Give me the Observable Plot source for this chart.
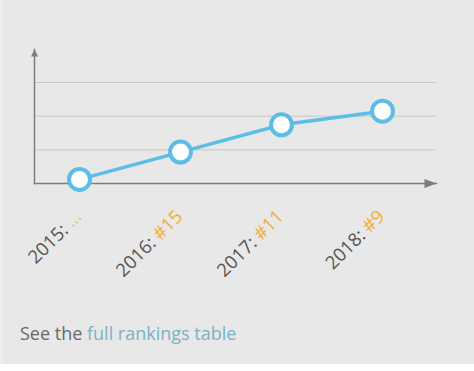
<!DOCTYPE html>
<html>
<head>
<meta charset="utf-8">
<script src="https://cdn.jsdelivr.net/npm/d3@7"></script>
<script src="https://cdn.jsdelivr.net/npm/@observablehq/plot@0.6"></script>
<style>
  html, body { margin: 0; padding: 0; background: #ffffff; }
  #wrap { position: relative; width: 474px; height: 364px; background: #e8e8e8; overflow: hidden; }
  #wrap::before { content: ""; position: absolute; left: 0; top: 0; width: 3px; height: 100%; background: #efefef; }
  #caption { position: absolute; left: 20px; top: 323px; font-family: "Open Sans", sans-serif; font-size: 18px; line-height: 20px; color: #6a6a6a; white-space: nowrap; }
  #caption span { color: #7bb2c3; }
</style>
</head>
<body>
<div id="wrap">
  <div id="chart"></div>
  <div id="caption">See the <span>full rankings table</span></div>
</div>
<script>
const years = ["2015", "2016", "2017", "2018"];
const ranks = [19, 15, 11, 9];
const rankLabels = ["...", "#15", "#11", "#9"];

const data = years.map((y, i) => ({year: y, rank: ranks[i], label: `${y}: ${rankLabels[i]}`}));

const yDomain = [19.6, 4.8];
const gridTicks = d3.range(1, 4).map(i => yDomain[0] + (yDomain[1] - yDomain[0]) * i / 3);

const blue = "#5cbee6";
const axisColor = "#7c7c7c";

function arrowHead(halfRatio) {
  return {
    draw(ctx, size) {
      const r = Math.sqrt(size / Math.PI);
      ctx.moveTo(0, 0);
      ctx.lineTo(-r * halfRatio, r);
      ctx.lineTo(r * halfRatio, r);
      ctx.closePath();
    }
  };
}

const chart = Plot.plot({
  width: 474,
  height: 300,
  marginLeft: 34,
  marginRight: 38,
  marginTop: 49,
  marginBottom: 117,
  insetTop: 33,
  insetLeft: 44,
  insetRight: 53,
  style: {background: "transparent", fontFamily: "'Open Sans', sans-serif"},
  x: {type: "point", domain: years, padding: 0, axis: null},
  y: {domain: yDomain, axis: null},
  marks: [
    Plot.gridY(gridTicks, {stroke: "#c6c6c6", strokeOpacity: 1, strokeWidth: 1}),
    Plot.frame({anchor: "left", stroke: axisColor, strokeWidth: 1.5}),
    Plot.frame({anchor: "bottom", stroke: axisColor, strokeWidth: 1.5}),
    Plot.dot([0], {frameAnchor: "top-left", symbol: arrowHead(0.5), r: 7, fill: axisColor, stroke: "none"}),
    Plot.dot([0], {frameAnchor: "bottom-right", symbol: arrowHead(0.38), r: 12, rotate: 90, fill: axisColor, stroke: "none"}),
    Plot.line(data, {x: "year", y: "rank", stroke: blue, strokeWidth: 3.5}),
    Plot.dot(data, {x: "year", y: "rank", r: 10.5, fill: "white", stroke: blue, strokeWidth: 4}),
    Plot.text(data, {
      x: "year", text: "label", frameAnchor: "bottom", dy: 25, dx: -6,
      rotate: -45, textAnchor: "end", lineAnchor: "top",
      fontSize: 18.5, fill: "#555"
    })
  ]
});

document.getElementById("chart").appendChild(chart);

// color the rank part of each tick label
d3.select(chart).selectAll("text").each(function () {
  const t = d3.select(this);
  const full = this.textContent;
  const k = full.indexOf(": ");
  if (k < 0) return;
  t.text(null);
  t.append("tspan").text(full.slice(0, k + 2));
  t.append("tspan").attr("fill", full.endsWith("...") ? "#f6c46a" : "#f2ac33").text(full.slice(k + 2));
});
</script>
</body>
</html>
